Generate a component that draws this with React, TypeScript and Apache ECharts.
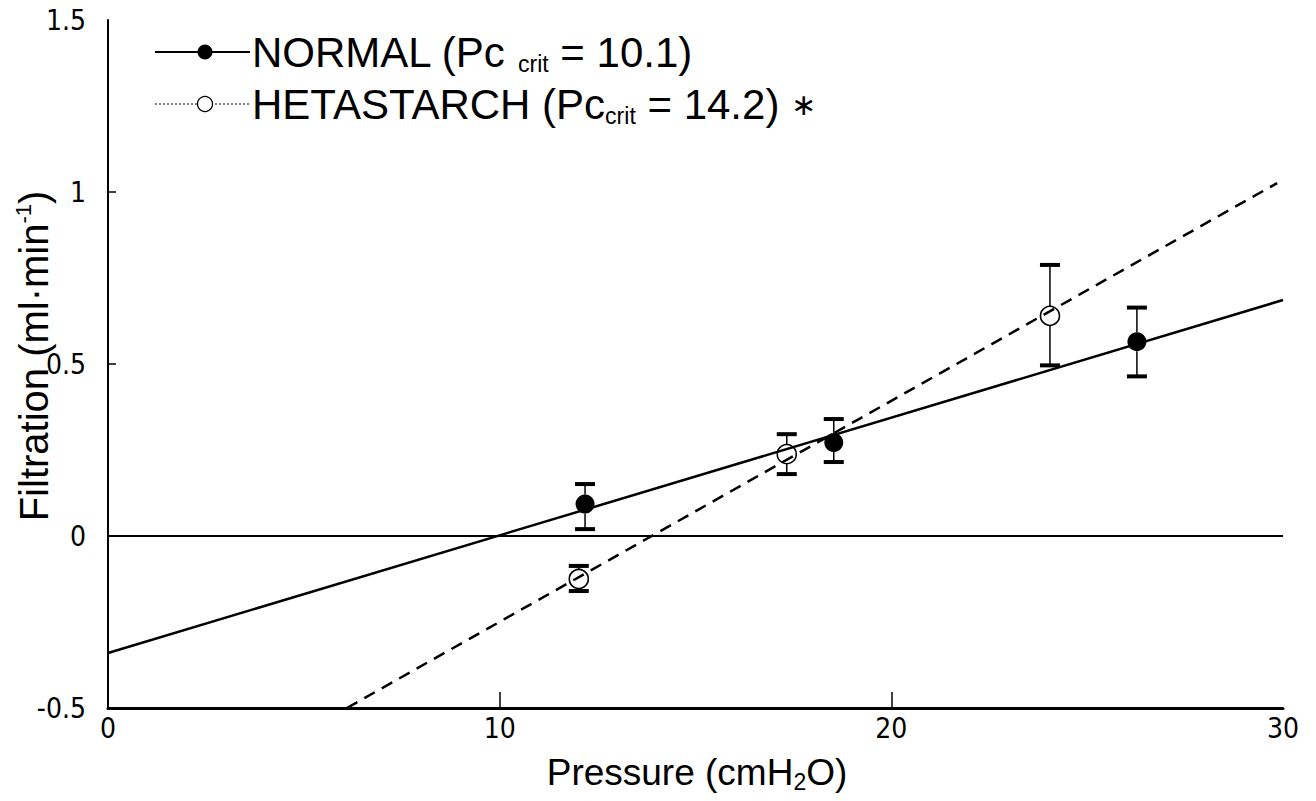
import React, { useEffect, useRef } from "react";
import * as echarts from "echarts";

// Filtration vs. pressure: group means with error bars and fitted regression lines
const normalX = [12.18, 18.53, 26.27];
const normalY = [0.093, 0.272, 0.565];
const normalHi = [0.151, 0.34, 0.664];
const normalLo = [0.02, 0.215, 0.464];

const hetaX = [12.02, 17.33, 24.05];
const hetaY = [-0.125, 0.238, 0.64];
const hetaHi = [-0.087, 0.296, 0.788];
const hetaLo = [-0.16, 0.18, 0.496];

// Regression line end points
const normalFit = [
  [0, -0.34],
  [30, 0.686],
];
const hetaFit = [
  [6.1, -0.5],
  [29.85, 1.026],
];
const zeroLine = [
  [0, 0],
  [30, 0],
];

const xTicks = [10, 20];
const yTicks = [0, 0.5, 1];

const FONT = "'Liberation Sans', Arial, Helvetica, sans-serif";
const NARROW = "'Liberation Sans Narrow', 'DejaVu Sans Condensed', 'Liberation Sans', sans-serif";
const MARK_R = 9.5;

function errorBarItem(params: any, api: any) {
  const x = api.value(0);
  const y = api.value(1);
  const hi = api.value(2);
  const lo = api.value(3);
  const pC = api.coord([x, y]);
  const pHi = api.coord([x, hi]);
  const pLo = api.coord([x, lo]);
  const capW = 20;
  const capH = 4;
  const children: any[] = [];
  if (pC[1] - MARK_R > pHi[1]) {
    children.push({
      type: "line",
      shape: { x1: pHi[0], y1: pHi[1], x2: pC[0], y2: pC[1] - MARK_R },
      style: { stroke: "#000", lineWidth: 1.5 },
    });
  }
  if (pLo[1] > pC[1] + MARK_R) {
    children.push({
      type: "line",
      shape: { x1: pC[0], y1: pC[1] + MARK_R, x2: pLo[0], y2: pLo[1] },
      style: { stroke: "#000", lineWidth: 1.5 },
    });
  }
  children.push({
    type: "rect",
    shape: { x: pHi[0] - capW / 2, y: pHi[1] - capH / 2, width: capW, height: capH },
    style: { fill: "#000" },
  });
  children.push({
    type: "rect",
    shape: { x: pLo[0] - capW / 2, y: pLo[1] - capH / 2, width: capW, height: capH },
    style: { fill: "#000" },
  });
  return { type: "group", children };
}

export default function App() {
  const ref = useRef<HTMLDivElement>(null);

  useEffect(() => {
    if (!ref.current) return;
    const chart = echarts.init(ref.current, null, { renderer: "svg" });

    const normalPts = normalX.map((x, i) => [x, normalY[i]]);
    const hetaPts = hetaX.map((x, i) => [x, hetaY[i]]);
    const normalErr = normalX.map((x, i) => [x, normalY[i], normalHi[i], normalLo[i]]);
    const hetaErr = hetaX.map((x, i) => [x, hetaY[i], hetaHi[i], hetaLo[i]]);

    const legendText = {
      base: { fontSize: 42, fontFamily: FONT, color: "#000", lineHeight: 46 },
      sub: {
        fontSize: 23,
        fontFamily: FONT,
        color: "#000",
        lineHeight: 20,
        verticalAlign: "bottom",
      },
      star: {
        fontSize: 30,
        fontFamily: "'DejaVu Sans', sans-serif",
        color: "#000",
        lineHeight: 46,
        verticalAlign: "middle",
      },
    };

    chart.setOption({
      animation: false,
      backgroundColor: "#fff",
      grid: {
        left: 108,
        top: 20,
        right: 33,
        bottom: 93,
        containLabel: false,
        outerBoundsMode: "none",
      },
      xAxis: {
        type: "value",
        min: 0,
        max: 30,
        interval: 10,
        axisLine: { onZero: false, lineStyle: { color: "#000", width: 3 } },
        axisTick: {
          inside: true,
          length: 16,
          customValues: xTicks,
          lineStyle: { color: "#000", width: 1.5 },
        },
        axisLabel: {
          color: "#000",
          fontSize: 28,
          fontFamily: NARROW,
          margin: 6,
        },
        splitLine: { show: false },
      },
      yAxis: {
        type: "value",
        min: -0.5,
        max: 1.5,
        interval: 0.5,
        axisLine: { onZero: false, lineStyle: { color: "#000", width: 2 } },
        axisTick: {
          inside: true,
          length: 8,
          customValues: yTicks,
          lineStyle: { color: "#000", width: 1.5 },
        },
        axisLabel: {
          color: "#000",
          fontSize: 28,
          fontFamily: NARROW,
          margin: 22,
          formatter: (v: number) => String(v),
        },
        splitLine: { show: false },
      },
      graphic: [
        // Legend
        {
          type: "line",
          shape: { x1: 155, y1: 52, x2: 250, y2: 52 },
          style: { stroke: "#000", lineWidth: 2 },
        },
        {
          type: "circle",
          shape: { cx: 205, cy: 52, r: 7.5 },
          style: { fill: "#000" },
        },
        {
          type: "text",
          x: 252,
          y: 52,
          style: {
            text: "{base|NORMAL (Pc }{sub|crit}{base| = 10.1)}",
            rich: legendText,
            verticalAlign: "middle",
            align: "left",
          },
        },
        {
          type: "line",
          shape: { x1: 155, y1: 104, x2: 250, y2: 104 },
          style: { stroke: "#000", lineWidth: 1.2, lineDash: [2, 2] },
        },
        {
          type: "circle",
          shape: { cx: 205, cy: 104, r: 7.5 },
          style: { fill: "#fff", stroke: "#000", lineWidth: 1.3 },
        },
        {
          type: "text",
          x: 252,
          y: 104,
          style: {
            text: "{base|HETASTARCH (Pc}{sub|crit}{base| = 14.2) }{star|∗}",
            rich: legendText,
            verticalAlign: "middle",
            align: "left",
          },
        },
        // Axis titles
        {
          type: "text",
          x: 697,
          y: 772,
          style: {
            text: "{base|Pressure (cmH}{sub|2}{base|O)}",
            rich: {
              base: { fontSize: 37, fontFamily: FONT, color: "#000", lineHeight: 42 },
              sub: {
                fontSize: 23,
                fontFamily: FONT,
                color: "#000",
                lineHeight: 20,
                verticalAlign: "bottom",
              },
            },
            align: "center",
            verticalAlign: "middle",
          },
        },
        {
          type: "text",
          x: 34,
          y: 356,
          rotation: Math.PI / 2,
          style: {
            text: "{base|Filtration (ml·min}{sup|-1}{base|)}",
            rich: {
              base: { fontSize: 40, fontFamily: FONT, color: "#000", lineHeight: 44 },
              sup: {
                fontSize: 22,
                fontFamily: FONT,
                color: "#000",
                lineHeight: 26,
                verticalAlign: "top",
              },
            },
            align: "center",
            verticalAlign: "middle",
          },
        },
      ],
      series: [
        {
          name: "zero",
          type: "line",
          data: zeroLine,
          symbol: "none",
          lineStyle: { color: "#000", width: 2 },
          silent: true,
        },
        {
          name: "NORMAL fit",
          type: "line",
          data: normalFit,
          symbol: "none",
          lineStyle: { color: "#000", width: 2.5 },
          silent: true,
        },
        {
          name: "HETASTARCH fit",
          type: "line",
          data: hetaFit,
          symbol: "none",
          lineStyle: { color: "#000", width: 2.5, type: [12, 8] },
          silent: true,
        },
        {
          name: "NORMAL error",
          type: "custom",
          renderItem: errorBarItem,
          data: normalErr,
          encode: { x: 0, y: 1 },
          silent: true,
        },
        {
          name: "HETASTARCH error",
          type: "custom",
          renderItem: errorBarItem,
          data: hetaErr,
          encode: { x: 0, y: 1 },
          silent: true,
        },
        {
          name: "NORMAL",
          type: "scatter",
          data: normalPts,
          symbol: "circle",
          symbolSize: MARK_R * 2,
          itemStyle: { color: "#000", opacity: 1 },
        },
        {
          name: "HETASTARCH",
          type: "scatter",
          data: hetaPts,
          symbol: "circle",
          symbolSize: MARK_R * 2,
          itemStyle: {
            color: "transparent",
            borderColor: "#000",
            borderWidth: 1.6,
            opacity: 1,
          },
        },
      ],
    });

    return () => chart.dispose();
  }, []);

  return (
    <div
      ref={ref}
      style={{ position: "fixed", left: 0, top: 0, width: 1316, height: 801, background: "#fff" }}
    />
  );
}
